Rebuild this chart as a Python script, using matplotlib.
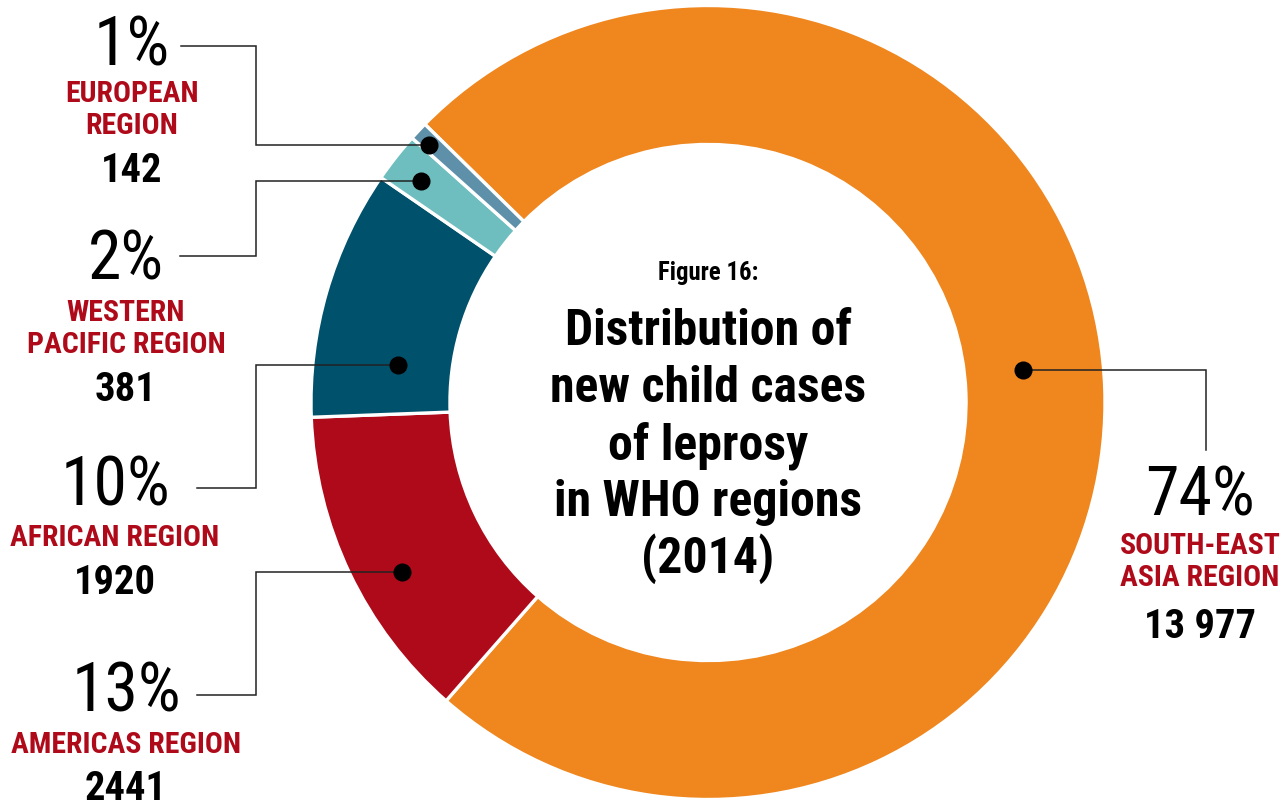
import matplotlib.pyplot as plt
from matplotlib.font_manager import fontManager

regions = ["SOUTH-EAST\nASIA REGION", "AMERICAS REGION", "AFRICAN REGION",
           "WESTERN\nPACIFIC REGION", "EUROPEAN\nREGION"]
cases = [13977, 2441, 1920, 381, 142]
percents = ["74%", "13%", "10%", "2%", "1%"]
numbers = ["13 977", "2441", "1920", "381", "142"]
colors = ["#EF861E", "#AE0A19", "#00516B", "#6EBEBF", "#5E90A9"]
title_lines = ["Distribution of", "new child cases", "of leprosy",
               "in WHO regions", "(2014)"]

names = {f.name for f in fontManager.ttflist}
FONT = "DejaVu Sans"
for cand in ["Roboto Condensed", "Barlow Condensed", "Archivo Narrow"]:
    if cand in names:
        FONT = cand
        break
plt.rcParams["font.family"] = [FONT, "DejaVu Sans"]

W, H = 1286, 802
fig = plt.figure(figsize=(W / 100, H / 100), dpi=100)
ax = fig.add_axes([0, 0, 1, 1])
renderer = fig.canvas.get_renderer()


def Y(py):
    return H - py


def fit_size(text, weight, width_px):
    t = fig.text(0, 0, text, fontsize=20, fontweight=weight)
    w = t.get_window_extent(renderer).width
    t.remove()
    return 20 * width_px / w


cx, cy, R = 708, Y(402.5), 397
ax.pie(cases, colors=colors, startangle=135.5, counterclock=False,
       center=(cx, cy), radius=R, frame=True,
       wedgeprops=dict(width=R * 0.35, edgecolor="white", linewidth=2.4))
ax.set_xlim(0, W)
ax.set_ylim(0, H)
ax.set_aspect("equal")
ax.axis("off")

# leader lines: dot -> elbow -> end (pixel coords)
leaders = [
    [(1023, 370), (1206, 370), (1206, 450)],
    [(402, 572), (256, 572), (256, 695), (197, 695)],
    [(398, 365), (256, 365), (256, 488), (197, 488)],
    [(421, 181), (256, 181), (256, 256), (180, 256)],
    [(429, 145), (256, 145), (256, 46), (181, 46)],
]
for pts in leaders:
    xs = [p[0] for p in pts]
    ys = [Y(p[1]) for p in pts]
    ax.plot(xs, ys, color="#222222", lw=1.1, solid_joinstyle="miter", zorder=5)
    ax.plot(xs[0], ys[0], "o", color="black", ms=12, zorder=6)

pct_fs = fit_size("74%", "normal", 110)
lab_fs = fit_size("AFRICAN REGION", "bold", 209)
num_fs = fit_size("1920", "bold", 82)
ttl_fs = fit_size("Distribution of", "bold", 287)
fig_fs = fit_size("Figure 16:", "bold", 100)

# label group layout: center x, baseline of pct, label, number
groups = [
    (1200, 515, 554, 638),
    (126, 712, 753, 800),
    (115, 505, 546, 594),
    (126, 280, 321, 401),
    (132, 65, 102, 182),
]
red = "#AE0A19"
for (gx, bp, bl, bn), pct, reg, num in zip(groups, percents, regions, numbers):
    ax.text(gx, Y(bp), pct, ha="center", va="baseline", fontsize=pct_fs,
            fontweight="normal", color="black")
    for i, line in enumerate(reg.split("\n")):
        ax.text(gx, Y(bl + 32 * i), line, ha="center", va="baseline",
                fontsize=lab_fs, fontweight="bold", color=red)
    ax.text(gx, Y(bn), num, ha="center", va="baseline", fontsize=num_fs,
            fontweight="bold", color="black")

ax.text(cx, Y(280), "Figure 16:", ha="center", va="baseline", fontsize=fig_fs,
        fontweight="bold", color="black")
for i, line in enumerate(title_lines):
    ax.text(cx, Y(345 + 57 * i), line, ha="center", va="baseline",
            fontsize=ttl_fs, fontweight="bold", color="black")

fig.savefig("out.png", dpi=100)
